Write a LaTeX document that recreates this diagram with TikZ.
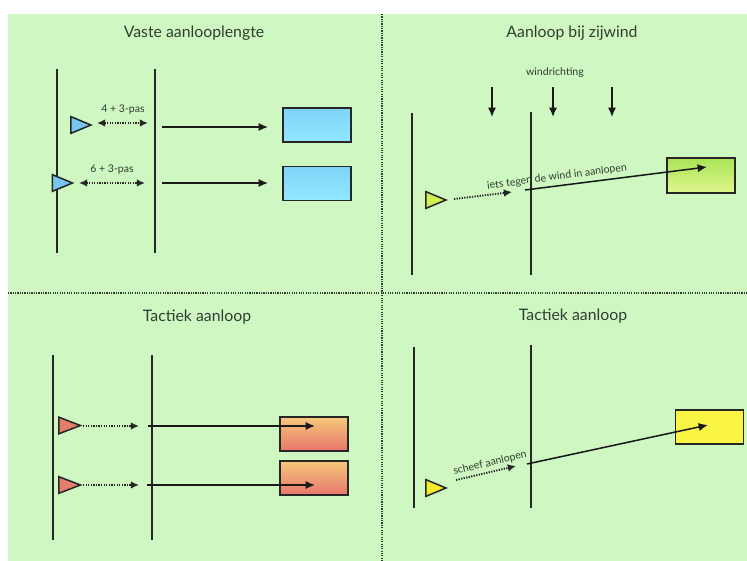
\documentclass[tikz,border=0pt]{standalone}
\usepackage{fontspec}
\setmainfont{Lato}
\usepackage{xcolor}
\usepackage{tikz}
\usetikzlibrary{shapes.geometric, arrows.meta, positioning, calc}
\definecolor{meadow}{RGB}{206,247,194}
\definecolor{ink}{RGB}{48,62,48}
\definecolor{skytop}{RGB}{126,212,248}
\definecolor{skybot}{RGB}{146,232,255}
\definecolor{limetop}{RGB}{168,228,86}
\definecolor{limebot}{RGB}{224,246,142}
\definecolor{peachtop}{RGB}{246,200,122}
\definecolor{peachbot}{RGB}{232,118,108}
\definecolor{sun}{RGB}{250,244,68}
\definecolor{runblue}{RGB}{118,198,240}
\definecolor{runlime}{RGB}{208,240,80}
\definecolor{runred}{RGB}{228,126,106}
\definecolor{runsun}{RGB}{246,234,40}

\begin{document}
\begin{tikzpicture}[
    x=0.03cm, y=-0.03cm,
    title/.style={font=\fontsize{13.5}{16}\selectfont, text=ink},
    small/.style={font=\fontsize{9}{11}\selectfont, text=ink, inner sep=1pt},
    lane/.style={line width=1.5pt, draw=black!85},
    divider/.style={line width=1.1pt, draw=ink, dash pattern=on 1pt off 1pt},
    runner/.style={isosceles triangle, isosceles triangle stretches, minimum width=0.5cm, minimum height=0.6cm, inner sep=0pt, draw=black!85, line width=1.3pt},
    target/.style={rectangle, draw=black!85, line width=1.2pt, minimum width=2.04cm, minimum height=1.02cm},
    arrow/.style={-{Latex[length=8pt,width=7pt]}, line width=1.3pt, draw=black!90},
    run/.style={-{Latex[length=7pt,width=6.5pt]}, line width=1.6pt, draw=black!85, dash pattern=on 1.1pt off 1.1pt},
    both/.style={{Latex[length=7pt,width=6.5pt]}-{Latex[length=7pt,width=6.5pt]}, line width=1.6pt, draw=black!85, dash pattern=on 1.1pt off 1.1pt}
]

% Background and dividers
\useasboundingbox (0,0) rectangle (747,561);
\fill[white] (0,0) rectangle (747,561);
\fill[meadow] (8,14) rectangle (747,561);
\coordinate (vtop) at (382,14);
\coordinate (vbot) at (382,561);
\coordinate (hl) at (8,293);
\coordinate (hr) at (747,293);
\draw[divider] (vtop) -- (vbot);
\draw[divider] (hl) -- (hr);

% Vaste aanlooplengte
\node[title] (t1) at (194,33) {Vaste aanlooplengte};
\coordinate (a1) at (57,69);  \coordinate (a1e) at (57,253);
\coordinate (b1) at (155,69); \coordinate (b1e) at (155,253);
\draw[lane] (a1) -- (a1e);
\draw[lane] (b1) -- (b1e);
\node[runner, fill=runblue] (p1) at (76.5,125) {};
\node[runner, fill=runblue] (p2) at (58,183) {};
\node[small] (l1) at (123,110) {4 + 3-pas};
\node[small] (l2) at (112,170) {6 + 3-pas};
\coordinate (d1s) at (97,123); \coordinate (d1e) at (148,123);
\coordinate (d2s) at (79,183); \coordinate (d2e) at (145,183);
\draw[both] (d1s) -- (d1e);
\draw[both] (d2s) -- (d2e);
\node[target, top color=skytop, bottom color=skybot] (v1) at (317,125) {};
\node[target, top color=skytop, bottom color=skybot] (v2) at (317,183.5) {};
\coordinate (j1s) at (162,127); \coordinate (j1e) at (268,127);
\coordinate (j2s) at (162,183); \coordinate (j2e) at (268,183);
\draw[arrow] (j1s) -- (j1e);
\draw[arrow] (j2s) -- (j2e);

% Aanloop bij zijwind
\node[title] (t2) at (572,33) {Aanloop bij zijwind};
\node[small] (wind) at (555,73) {windrichting};
\foreach \i/\x in {1/492, 2/553, 3/612} {
  \coordinate (w\i) at (\x,87);
  \coordinate (w\i e) at (\x,117);
  \draw[arrow] (w\i) -- (w\i e);
}
\coordinate (a2) at (412,113); \coordinate (a2e) at (412,275);
\coordinate (b2) at (531,112); \coordinate (b2e) at (531,275);
\draw[lane] (a2) -- (a2e);
\draw[lane] (b2) -- (b2e);
\node[runner, fill=runlime] (p3) at (431.5,200) {};
\coordinate (d3s) at (454,199); \coordinate (d3e) at (512,192);
\draw[run] (d3s) -- (d3e);
\node[small, rotate=7.5] (l3) at (557,177) {iets tegen de wind in aanlopen};
\node[target, minimum height=1.05cm, top color=limetop, bottom color=limebot] (v3) at (701,175.5) {};
\coordinate (j3s) at (525,190); \coordinate (j3e) at (707,167);
\draw[arrow] (j3s) -- (j3e);

% Tactiek aanloop (links)
\node[title] (t3) at (197,317) {Tactiek aanloop};
\coordinate (a3) at (53,355);  \coordinate (a3e) at (53,540);
\coordinate (b3) at (152,355); \coordinate (b3e) at (152,540);
\draw[lane] (a3) -- (a3e);
\draw[lane] (b3) -- (b3e);
\node[runner, fill=runred, minimum height=0.65cm] (p4) at (64.5,425.5) {};
\node[runner, fill=runred, minimum height=0.65cm] (p5) at (64.5,485) {};
\coordinate (d4s) at (83,426); \coordinate (d4e) at (139,426);
\coordinate (d5s) at (83,485); \coordinate (d5e) at (139,485);
\draw[run] (d4s) -- (d4e);
\draw[run] (d5s) -- (d5e);
\node[target, top color=peachtop, bottom color=peachbot] (v4) at (314,434) {};
\node[target, top color=peachtop, bottom color=peachbot] (v5) at (314,478) {};
\coordinate (j4s) at (148,426); \coordinate (j4e) at (315,426);
\coordinate (j5s) at (147,485); \coordinate (j5e) at (315,485);
\draw[arrow] (j4s) -- (j4e);
\draw[arrow] (j5s) -- (j5e);

% Tactiek aanloop (rechts)
\node[title] (t4) at (573,316) {Tactiek aanloop};
\coordinate (a4) at (414,347); \coordinate (a4e) at (414,508);
\coordinate (b4) at (531,345); \coordinate (b4e) at (531,508);
\draw[lane] (a4) -- (a4e);
\draw[lane] (b4) -- (b4e);
\node[runner, fill=runsun] (p6) at (431.5,488) {};
\node[small, rotate=14] (l4) at (490,463) {scheef aanlopen};
\coordinate (d6s) at (456,480); \coordinate (d6e) at (516,466);
\draw[run] (d6s) -- (d6e);
\node[target, fill=sun] (v6) at (709.5,427) {};
\coordinate (j6s) at (527,464); \coordinate (j6e) at (708,425);
\draw[arrow] (j6s) -- (j6e);

\end{tikzpicture}
\end{document}
